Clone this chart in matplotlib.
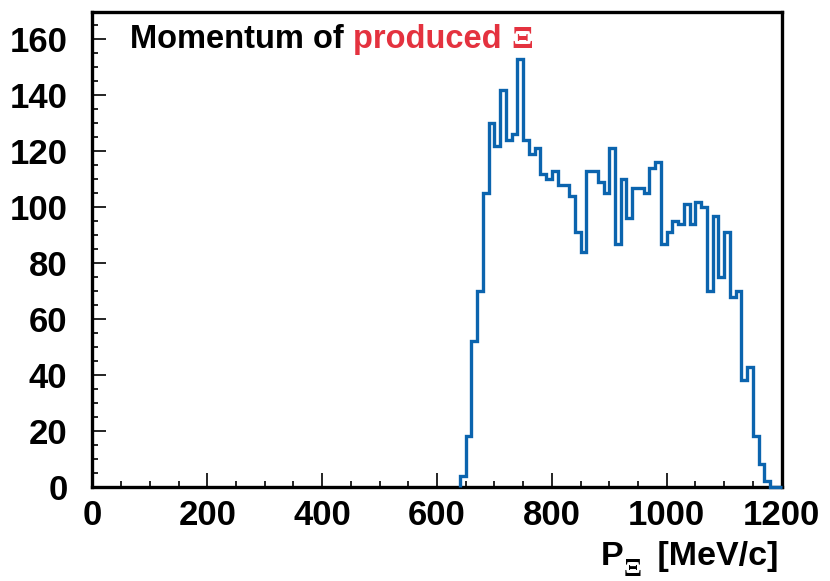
import numpy as np
import matplotlib
matplotlib.use('Agg')
import matplotlib.pyplot as plt
from matplotlib.ticker import MultipleLocator

plt.rcParams['font.family'] = 'Liberation Sans'
plt.rcParams['font.weight'] = 'bold'

# 10 MeV/c bins, first filled bin starts at 640 MeV/c
bin_width = 10
first_bin = 640
counts = [4, 18, 52, 70, 105, 130, 122, 142, 124, 126,
          153, 124, 119, 121, 112, 110, 113, 108, 108, 104,
          91, 84, 113, 113, 109, 105, 121, 87, 110, 96,
          107, 107, 105, 114, 116, 87, 91, 95, 94, 101,
          94, 102, 100, 70, 97, 75, 91, 68, 70, 38,
          43, 18, 8, 2, 0, 0]
edges = first_bin + bin_width * np.arange(len(counts) + 1)

line_col = '#0b64ae'
red = '#e4323f'

fig = plt.figure(figsize=(8.3, 5.81), dpi=100)
ax = fig.add_axes([0.1114, 0.1623, 0.8302, 0.8179])

ax.stairs(counts, edges, color=line_col, lw=2.4, zorder=5, clip_on=False)

ax.set_xlim(0, 1200)
ax.set_ylim(0, 170)

for s in ax.spines.values():
    s.set_linewidth(2.4)

ax.xaxis.set_major_locator(MultipleLocator(200))
ax.xaxis.set_minor_locator(MultipleLocator(50))
ax.yaxis.set_major_locator(MultipleLocator(20))
ax.yaxis.set_minor_locator(MultipleLocator(5))
ax.tick_params(which='both', direction='in', top=False, right=False,
               labelsize=25, width=1.2)
ax.tick_params(which='major', length=10)
ax.tick_params(which='minor', length=4.5)
ax.tick_params(axis='y', pad=18)
ax.tick_params(axis='x', pad=9)

# title: black then red with a serif Xi
t1 = fig.text(0.157, 0.917, 'Momentum of ', fontsize=23.5, color='black',
              fontweight='bold', va='baseline')
t2 = ax.annotate('produced ', xy=(1, 0), xycoords=t1, fontsize=23.5,
                 color=red, fontweight='bold', va='bottom')
ax.annotate('\u039e', xy=(1, 0), xycoords=t2, xytext=(0, 0),
            textcoords='offset points', fontsize=23, color=red,
            fontweight='bold', family='Liberation Serif', va='bottom')

# x-axis label
xl = fig.text(0.938, 0.028, ' [MeV/c]', fontsize=24.5, ha='right',
              va='baseline', fontweight='bold')
xi = ax.annotate('\u039e ', xy=(0, 0), xycoords=xl, xytext=(0, -7),
                 textcoords='offset points', fontsize=19, ha='right',
                 family='Liberation Serif', fontweight='bold', va='bottom')
ax.annotate('P', xy=(0, 0), xycoords=xi, xytext=(0, 7),
            textcoords='offset points', fontsize=24.5, ha='right',
            fontweight='bold', va='bottom')

fig.savefig('out.png', dpi=100)
